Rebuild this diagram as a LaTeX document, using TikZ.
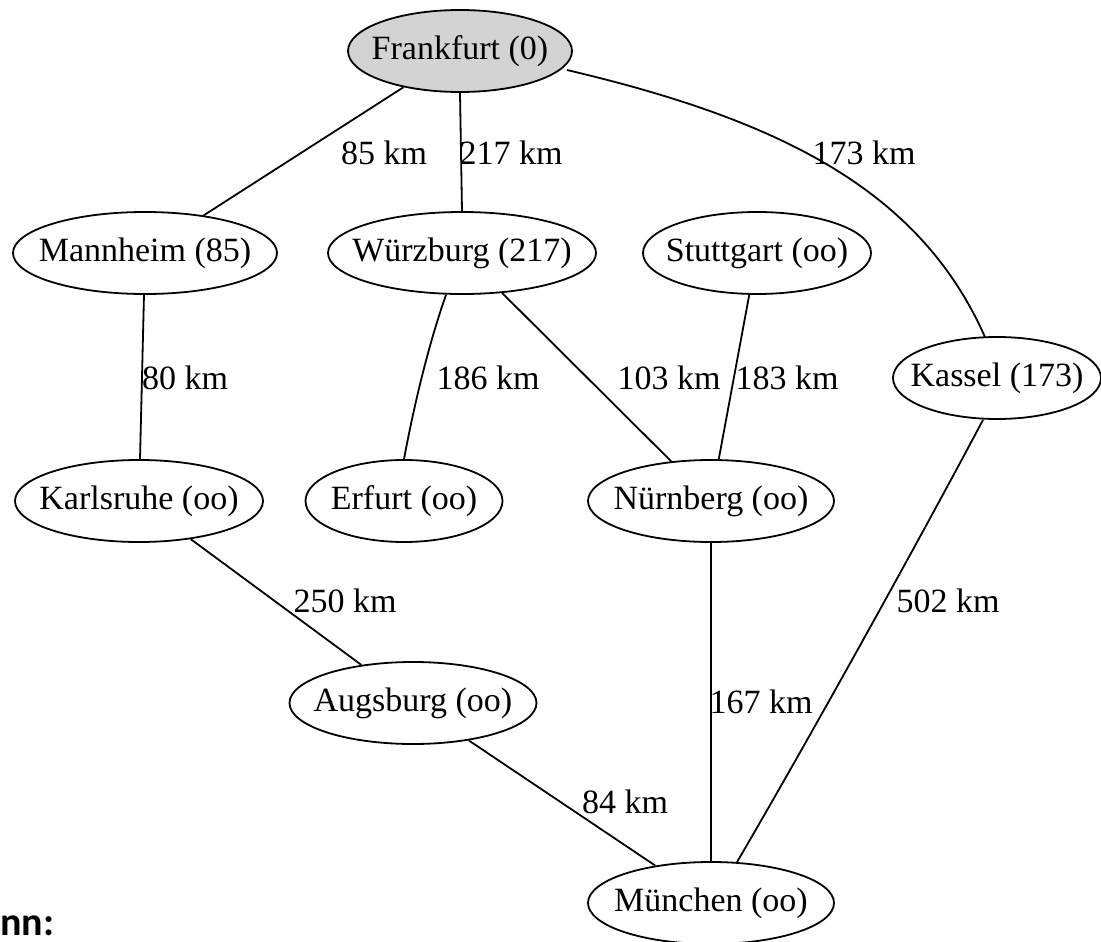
\documentclass[tikz,border=0pt]{standalone}
\usepackage{fontspec}
\setmainfont{Liberation Serif}
\newfontfamily\boldsans{Carlito}
\usetikzlibrary{shapes.geometric}
\definecolor{lgray}{HTML}{D3D3D3}
\tikzset{
  city/.style={draw=black, line width=1.8pt, ellipse, inner xsep=-60pt, inner ysep=-25pt, minimum height=82pt, font=\fontsize{34}{40}\selectfont},
  edge/.style={draw=black, line width=1.8pt},
  elabel/.style={font=\fontsize{34}{40}\selectfont, anchor=base, inner sep=0pt}
}
\begin{document}
\begin{tikzpicture}[x=1pt,y=-1pt]
\useasboundingbox (0,0) rectangle (1101,942);
% nodes
\node[city, fill=lgray, minimum width=224pt] (fra) at (460,51) {Frankfurt (0)};
\node[city, minimum width=264pt] (man) at (145,253) {Mannheim (85)};
\node[city, minimum width=268pt] (wue) at (462,253) {Würzburg (217)};
\node[city, minimum width=228pt] (stu) at (757,253) {Stuttgart (oo)};
\node[city, minimum width=208pt] (kas) at (997,378) {Kassel (173)};
\node[city, minimum width=248pt] (kar) at (139,501) {Karlsruhe (oo)};
\node[city, minimum width=197pt] (erf) at (404,501) {Erfurt (oo)};
\node[city, minimum width=246pt] (nue) at (711,501) {Nürnberg (oo)};
\node[city, minimum width=247pt] (aug) at (413,703) {Augsburg (oo)};
\node[city, minimum width=246pt] (mue) at (711,903) {München (oo)};
% edges
\draw[edge] (fra) -- (man);
\draw[edge] (fra.south) -- (wue.north);
\draw[edge] ([xshift=-6pt,yshift=-19pt]fra.east) .. controls (780,120) and (920,190) .. ([xshift=-12pt,yshift=-1pt]kas.north);
\draw[edge] (man) -- (kar);
\draw[edge] ([xshift=-16pt]wue.south) .. controls (430,340) and (415,400) .. (erf.north);
\draw[edge] (wue) -- (nue);
\draw[edge] (stu) -- (nue);
\draw[edge] ([xshift=-14pt]kas.south) .. controls (930,520) and (820,720) .. ([xshift=26pt,yshift=-1pt]mue.north);
\draw[edge] (kar) -- (aug);
\draw[edge] (nue.south) -- (mue.north);
\draw[edge] (aug) -- (mue);
% edge labels
\node[elabel] (l1) at (384,164) {85 km};
\node[elabel] (l2) at (511,164) {217 km};
\node[elabel] (l3) at (864,164) {173 km};
\node[elabel] (l4) at (185,389) {80 km};
\node[elabel] (l5) at (488,389) {186 km};
\node[elabel] (l6) at (669,389) {103 km};
\node[elabel] (l7) at (787,389) {183 km};
\node[elabel] (l8) at (345,612) {250 km};
\node[elabel] (l9) at (948,612) {502 km};
\node[elabel] (l10) at (761,713) {167 km};
\node[elabel] (l11) at (625,813) {84 km};
% text at the lower left edge
\node[anchor=base west, inner sep=0pt, font=\boldsans\bfseries\fontsize{40}{48}\selectfont] (nn) at (0,935) {nn:};
\end{tikzpicture}
\end{document}
